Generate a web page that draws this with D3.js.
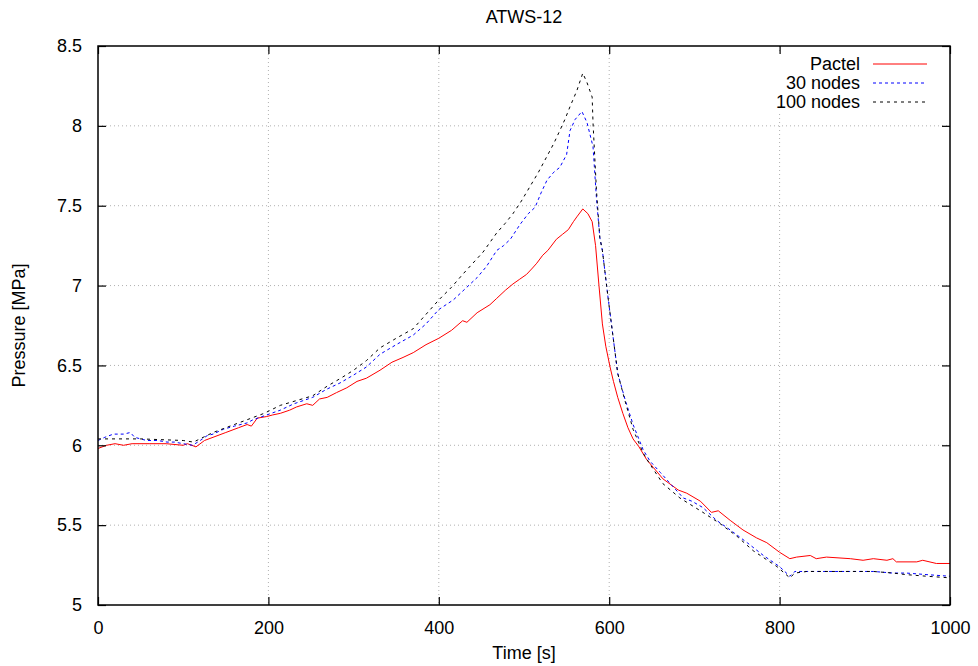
<!DOCTYPE html>
<html>
<head>
<meta charset="utf-8">
<script src="https://cdn.jsdelivr.net/npm/d3@7"></script>
<style>
  body { margin: 0; background: #fff; }
  svg text { font-family: "Liberation Sans", Arial, Helvetica, sans-serif; font-size: 18px; fill: #000; }
</style>
</head>
<body>
<svg id="chart" width="978" height="666"></svg>
<script>
// Pactel (red, solid)
let pactelT = [0,10,20,30,40,60,80,100,105,115,125,135,150,165,175,180,187,198,205,214,225,233,245,252,260,269,280,292,304,315,331,345,358,370,385,400,415,428,433,445,460,468,478,487,495,503,510,515,522,528,538,545,552,558,562,569,575,580,584,588,592,596,601,605,610,616,622,628,635,644,652,663,681,691,707,720,728,742,757,773,785,800,812,820,836,843,855,883,898,910,926,933,937,961,968,984,1000];
let pactelP = [5.98,6.0,6.01,6.0,6.01,6.01,6.01,6.0,6.01,5.99,6.03,6.05,6.08,6.11,6.13,6.12,6.17,6.18,6.19,6.2,6.22,6.24,6.26,6.25,6.29,6.30,6.33,6.36,6.40,6.42,6.47,6.52,6.55,6.58,6.63,6.67,6.72,6.78,6.77,6.83,6.88,6.92,6.97,7.01,7.04,7.07,7.11,7.14,7.19,7.22,7.29,7.32,7.35,7.40,7.43,7.48,7.45,7.40,7.25,7.0,6.76,6.62,6.49,6.40,6.30,6.20,6.11,6.04,5.99,5.91,5.86,5.79,5.72,5.70,5.65,5.58,5.59,5.53,5.47,5.42,5.39,5.33,5.29,5.30,5.31,5.29,5.30,5.29,5.28,5.29,5.28,5.29,5.27,5.27,5.28,5.26,5.26];

// 30 nodes (blue, dashed)
let n30T = [0,8,18,30,38,43,50,57,70,81,90,100,111,120,128,135,147,160,175,182,198,214,230,252,268,284,300,315,331,350,370,385,400,417,433,445,456,468,476,484,495,505,513,520,527,535,542,550,554,560,568,574,581,585,589,592,599,605,610,619,628,640,648,660,675,687,697,710,726,742,762,781,800,812,818,832,871,910,933,949,973,1000];
let n30P = [6.03,6.05,6.07,6.07,6.08,6.05,6.04,6.03,6.03,6.02,6.02,6.01,6.0,6.03,6.06,6.07,6.1,6.12,6.14,6.16,6.19,6.22,6.26,6.30,6.35,6.39,6.44,6.49,6.57,6.63,6.69,6.76,6.85,6.91,6.99,7.05,7.12,7.22,7.25,7.29,7.38,7.45,7.49,7.58,7.66,7.71,7.74,7.82,7.97,8.04,8.09,8.02,7.87,7.55,7.3,7.22,6.91,6.66,6.45,6.28,6.13,5.97,5.90,5.83,5.74,5.67,5.65,5.61,5.53,5.47,5.39,5.31,5.24,5.18,5.21,5.21,5.21,5.21,5.20,5.20,5.19,5.18];

// 100 nodes (black, dashed)
let n100T = [0,50,100,112,135,155,175,195,214,233,252,269,285,300,315,331,350,370,385,400,415,428,440,452,468,478,487,497,507,517,527,535,542,548,554,562,569,574,580,581,585,589,592,599,605,610,619,628,640,648,663,683,710,730,750,769,797,812,818,832,871,910,933,949,973,1000];
let n100P = [6.04,6.04,6.03,6.02,6.08,6.12,6.16,6.20,6.25,6.28,6.31,6.37,6.42,6.47,6.53,6.61,6.67,6.73,6.82,6.91,6.99,7.07,7.14,7.21,7.33,7.39,7.45,7.53,7.62,7.71,7.81,7.89,7.97,8.04,8.12,8.22,8.33,8.27,8.18,8.02,7.6,7.3,7.22,6.91,6.66,6.45,6.27,6.10,5.95,5.88,5.76,5.67,5.58,5.51,5.43,5.34,5.24,5.17,5.20,5.21,5.21,5.21,5.20,5.19,5.18,5.17];

let xTicks = [0, 200, 400, 600, 800, 1000];
let yTicks = [5, 5.5, 6, 6.5, 7, 7.5, 8, 8.5];

let series = [
  { name: 'Pactel',    t: pactelT, p: pactelP, color: '#ff0000', dash: null },
  { name: '30 nodes',  t: n30T,    p: n30P,    color: '#0000ff', dash: '3,3' },
  { name: '100 nodes', t: n100T,   p: n100P,   color: '#000000', dash: '3,4' }
];

var width = 978, height = 666;
var margin = { top: 46, right: 28, bottom: 61, left: 98 };
var w = width - margin.left - margin.right,
    h = height - margin.top - margin.bottom;

let svg = d3.select('#chart');
let g = svg.append('g').attr('transform', 'translate(' + margin.left + ',' + margin.top + ')');

let x = d3.scaleLinear().domain([0, 1000]).range([0, w]);
let y = d3.scaleLinear().domain([5, 8.5]).range([h, 0]);

// grid
g.append('g').selectAll('line.gx')
  .data(xTicks.slice(1, -1))
  .join('line')
  .attr('x1', d => x(d)).attr('x2', d => x(d))
  .attr('y1', 0).attr('y2', h)
  .attr('stroke', '#b0b0b0').attr('stroke-width', 1).attr('stroke-dasharray', '1,3');
g.append('g').selectAll('line.gy')
  .data(yTicks.slice(1, -1))
  .join('line')
  .attr('x1', 0).attr('x2', w)
  .attr('y1', d => y(d)).attr('y2', d => y(d))
  .attr('stroke', '#b0b0b0').attr('stroke-width', 1).attr('stroke-dasharray', '1,3');

// legend background (key is opaque over grid)
g.append('rect')
  .attr('x', 660).attr('y', 6).attr('width', 180).attr('height', 62)
  .attr('fill', '#fff');

// curves
let line = d3.line()
  .x(d => x(d[0]))
  .y(d => y(d[1]));

series.forEach(function(s) {
  g.append('path')
    .datum(s.t.map((t, i) => [t, s.p[i]]))
    .attr('fill', 'none')
    .attr('stroke', s.color)
    .attr('stroke-width', 1)
    .attr('stroke-dasharray', s.dash)
    .attr('d', line);
});

// axes: inward ticks, mirrored on top/right
let axB = d3.axisBottom(x).tickValues(xTicks).tickFormat(d3.format('d')).tickSizeInner(-8).tickSizeOuter(0).tickPadding(16);
let axL = d3.axisLeft(y).tickValues(yTicks).tickFormat(d3.format('')).tickSizeInner(-8).tickSizeOuter(0).tickPadding(16);
let axT = d3.axisTop(x).tickValues(xTicks).tickSizeInner(-8).tickSizeOuter(0).tickFormat('');
let axR = d3.axisRight(y).tickValues(yTicks).tickSizeInner(-8).tickSizeOuter(0).tickFormat('');

g.append('g').attr('transform', 'translate(0,' + h + ')').call(axB);
g.append('g').call(axL);
g.append('g').call(axT);
g.append('g').attr('transform', 'translate(' + w + ',0)').call(axR);

g.selectAll('.domain').remove();
g.selectAll('.tick line').attr('stroke', '#000').attr('stroke-width', 1.2);
g.selectAll('.tick text').style('font-size', '18px').attr('fill', '#000');

// frame
g.append('rect')
  .attr('x', 0).attr('y', 0).attr('width', w).attr('height', h)
  .attr('fill', 'none').attr('stroke', '#000').attr('stroke-width', 1.5);

// legend
let leg = g.append('g').selectAll('g')
  .data(series)
  .join('g')
  .attr('transform', (d, i) => 'translate(0,' + (18 + i * 19) + ')');
leg.append('text')
  .attr('x', 762).attr('dy', '0.35em')
  .attr('text-anchor', 'end')
  .text(d => d.name);
leg.append('line')
  .attr('x1', 775).attr('x2', 829)
  .attr('stroke', d => d.color).attr('stroke-width', 1)
  .attr('stroke-dasharray', d => d.dash);

// titles
svg.append('text')
  .attr('x', margin.left + w / 2).attr('y', 23)
  .attr('text-anchor', 'middle')
  .text('ATWS-12');
svg.append('text')
  .attr('x', margin.left + w / 2).attr('y', 659)
  .attr('text-anchor', 'middle')
  .text('Time [s]');
svg.append('text')
  .attr('transform', 'translate(25,' + (margin.top + h / 2) + ') rotate(-90)')
  .attr('text-anchor', 'middle')
  .text('Pressure [MPa]');
</script>
</body>
</html>
